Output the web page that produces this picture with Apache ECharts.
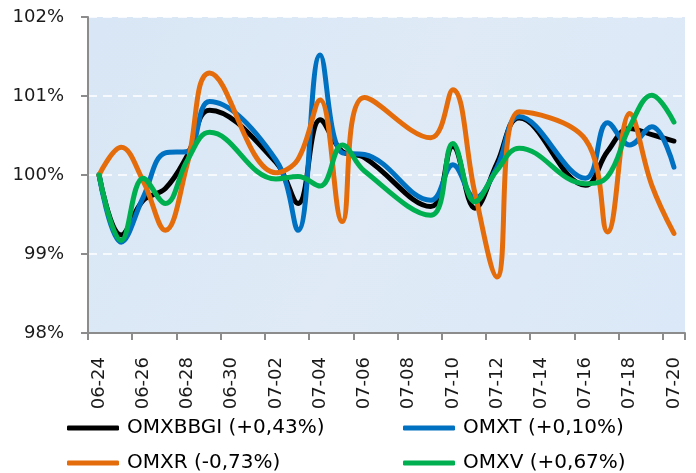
<!DOCTYPE html>
<html>
<head>
<meta charset="utf-8">
<script src="https://cdn.jsdelivr.net/npm/echarts@6/dist/echarts.min.js"></script>
<style>
html,body{margin:0;padding:0;background:#fff;}
#c{width:696px;height:473px;}
</style>
</head>
<body>
<div id="c"></div>
<script>
const dates = ['06-24','06-25','06-26','06-27','06-28','06-29','06-30','07-01','07-02','07-03','07-04','07-05','07-06','07-07','07-08','07-09','07-10','07-11','07-12','07-13','07-14','07-15','07-16','07-17','07-18','07-19','07-20'];
const yTicks = [98, 99, 100, 101, 102];
const seriesNames = ['OMXBBGI (+0,43%)', 'OMXT (+0,10%)', 'OMXR (-0,73%)', 'OMXV (+0,67%)'];
const omxbbgi = [100, 99.24, 99.68, 99.83, 100.25, 100.82, null, null, 100.16, 99.64, 100.70, 100.30, 100.22, null, null, 99.60, 100.36, 99.58, 100.15, 100.72, null, null, 99.87, 100.30, 100.59, 100.51, 100.43];
const omxt    = [100, 99.15, 99.72, 100.28, 100.30, 100.93, null, null, 100.19, 99.30, 101.52, 100.28, 100.26, null, null, 99.68, 100.13, 99.71, 100.10, 100.74, null, null, 99.96, 100.66, 100.38, 100.61, 100.10];
const omxr    = [100, 100.35, 99.92, 99.30, 100.15, 101.29, null, null, 100.03, 100.20, 100.95, 99.41, 100.98, null, null, 100.47, 101.08, 99.77, 98.71, 100.80, null, null, 100.45, 99.28, 100.78, 99.87, 99.26];
const omxv    = [100, 99.17, 99.96, 99.64, 100.19, 100.54, null, null, 99.95, 99.98, 99.86, 100.38, 100.05, null, null, 99.49, 100.40, 99.66, 100.06, 100.34, null, null, 99.89, 99.98, 100.61, 101.01, 100.67];

const colors = ['#000000', '#0070c0', '#e46c0a', '#00b050'];
const values = [omxbbgi, omxt, omxr, omxv];
const FONT = 'DejaVu Sans';

const chart = echarts.init(document.getElementById('c'));
const legendPos = [[67, 418], [403, 418], [67, 453], [403, 453]];
const option = {
  animation: false,
  backgroundColor: '#ffffff',
  grid: {
    left: 88, right: 11, top: 17, bottom: 140,
    show: true,
    borderWidth: 0,
    backgroundColor: new echarts.graphic.LinearGradient(0, 0, 1, 1, [
      {offset: 0, color: '#d8e6f5'},
      {offset: 0.5, color: '#dfeaf6'},
      {offset: 1, color: '#dbe8f7'}
    ])
  },
  legend: seriesNames.map((n, i) => ({
    data: [n],
    left: legendPos[i][0], top: legendPos[i][1],
    padding: 0,
    icon: 'roundRect', itemWidth: 52, itemHeight: 5, itemGap: 6,
    textStyle: {fontFamily: FONT, fontSize: 20, color: '#000', padding: [0, 0, 0, 3]},
    selectedMode: false
  })),
  xAxis: {
    type: 'category',
    data: dates,
    boundaryGap: true,
    axisLine: {lineStyle: {color: '#8c8c8c', width: 2}},
    axisTick: {show: true, interval: 1, length: 7, lineStyle: {color: '#8c8c8c', width: 2}},
    axisLabel: {interval: 1, rotate: 90, margin: 24, fontFamily: FONT, fontSize: 18, color: '#1a1a1a', padding: [8, 0, 0, 0]},
    splitLine: {show: false}
  },
  yAxis: {
    type: 'value',
    min: yTicks[0], max: yTicks[yTicks.length - 1], interval: 1,
    axisLine: {show: true, lineStyle: {color: '#8c8c8c', width: 2}},
    axisTick: {show: true, length: 7, lineStyle: {color: '#8c8c8c', width: 2}},
    axisLabel: {margin: 24, fontFamily: FONT, fontSize: 18, color: '#1a1a1a', formatter: '{value}%'},
    splitLine: {show: true, lineStyle: {color: '#ffffff', width: 1.5, type: [9, 6]}}
  },
  series: seriesNames.map((n, i) => ({
    name: n,
    type: 'line',
    data: values[i],
    connectNulls: true,
    smooth: 0.4,
    showSymbol: false,
    symbol: 'none',
    color: colors[i],
    lineStyle: {width: 5, color: colors[i], cap: 'round', join: 'round'},
    z: 2 + i
  }))
};
chart.setOption(option);
</script>
</body>
</html>
